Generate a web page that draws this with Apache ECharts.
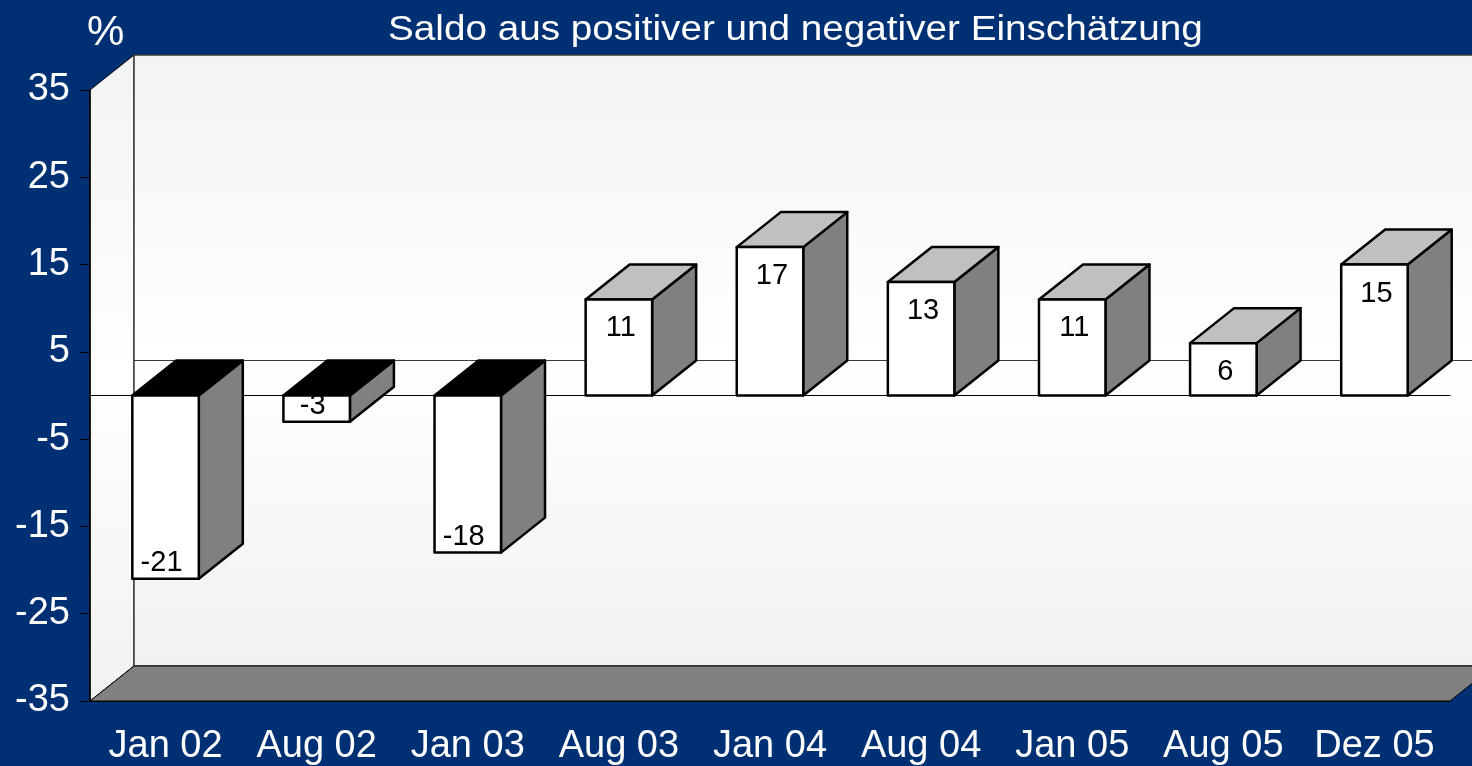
<!DOCTYPE html>
<html>
<head>
<meta charset="utf-8">
<script src="https://cdn.jsdelivr.net/npm/echarts@6/dist/echarts.min.js"></script>
<style>
  html, body { margin: 0; padding: 0; background: #003074; }
  #chart { width: 1472px; height: 766px; }
</style>
</head>
<body>
<div id="chart"></div>
<script>
var months = ['Jan 02', 'Aug 02', 'Jan 03', 'Aug 03', 'Jan 04', 'Aug 04', 'Jan 05', 'Aug 05', 'Dez 05'];
var saldo = [-21, -3, -18, 11, 17, 13, 11, 6, 15];
var titleText = 'Saldo aus positiver und negativer Einschätzung';

// 3d depth of the plot box (pixels)
var DX = 44, DY = -35;
var FONT = '"Liberation Sans", Arial, sans-serif';

var dom = document.getElementById('chart');
var myChart = echarts.init(dom, null, { renderer: 'canvas' });

function renderWalls(params, api) {
  var cs = params.coordSys;
  var x0 = cs.x, y0 = cs.y, x1 = cs.x + cs.width, y1 = cs.y + cs.height;
  var zy = api.coord([0, 0])[1];
  var wallFill = new echarts.graphic.LinearGradient(0, 0, 0, 1, [
    { offset: 0, color: '#f3f3f3' },
    { offset: 0.5, color: '#ffffff' },
    { offset: 1, color: '#f1f1f1' }
  ]);
  return {
    type: 'group',
    children: [
      { type: 'polygon', shape: { points: [[x0, y0], [x0 + DX, y0 + DY], [x0 + DX, y1 + DY], [x0, y1]] },
        style: { fill: wallFill, stroke: '#000', lineWidth: 1 } },
      { type: 'rect', shape: { x: x0 + DX, y: y0 + DY, width: cs.width, height: cs.height },
        style: { fill: wallFill, stroke: '#3a3a3a', lineWidth: 1.5 } },
      { type: 'polygon', shape: { points: [[x0, y1], [x0 + DX, y1 + DY], [x1 + DX, y1 + DY], [x1, y1]] },
        style: { fill: '#808080', stroke: '#000', lineWidth: 1 } },
      { type: 'line', shape: { x1: x0 + DX, y1: zy + DY, x2: x1 + DX, y2: zy + DY },
        style: { stroke: '#3a3a3a', lineWidth: 1 } }
    ]
  };
}

function renderBar(params, api) {
  var i = api.value(0), v = api.value(1);
  var base = api.coord([i, 0]), end = api.coord([i, v]);
  var w = api.size([1, 0])[0] * 0.44;
  var xl = base[0] - w / 2, xr = base[0] + w / 2;
  var top = Math.min(base[1], end[1]), bot = Math.max(base[1], end[1]);
  var edge = { stroke: '#000', lineWidth: 2.5, lineJoin: 'round' };
  return {
    type: 'group',
    children: [
      { type: 'polygon', shape: { points: [[xr, top], [xr + DX, top + DY], [xr + DX, bot + DY], [xr, bot]] },
        style: Object.assign({ fill: '#808080' }, edge) },
      { type: 'polygon', shape: { points: [[xl, top], [xl + DX, top + DY], [xr + DX, top + DY], [xr, top]] },
        style: Object.assign({ fill: v >= 0 ? '#c0c0c0' : '#000000' }, edge) },
      { type: 'rect', shape: { x: xl, y: top, width: w, height: bot - top },
        style: Object.assign({ fill: '#ffffff' }, edge) },
      { type: 'text', x: base[0] + (v >= 0 ? 2 : -4), y: v >= 0 ? top + 29 : bot - 16,
        style: { text: String(v), fill: '#000', font: '29px ' + FONT, align: 'center', verticalAlign: 'middle' } }
    ]
  };
}

option = {
  backgroundColor: '#003074',
  animation: false,
  title: {
    text: '%', left: 82, top: 7,
    textStyle: { color: '#fff', fontSize: 42, fontWeight: 'normal', fontFamily: FONT }
  },
  graphic: [
    { type: 'text', left: 388, top: 13, scaleX: 1.105, silent: true,
      style: { text: titleText, fill: '#fff', font: '35px ' + FONT } }
  ],
  grid: { left: 90, top: 90, width: 1360, height: 611 },
  xAxis: [
    {
      type: 'category', data: months, position: 'bottom',
      axisLine: { onZero: false, lineStyle: { color: '#000', width: 1 } },
      axisTick: { length: 10, lineStyle: { color: '#000' } },
      axisLabel: { color: '#fff', fontSize: 38, fontFamily: FONT, margin: 27, interval: 0, hideOverlap: false },
      splitLine: { show: false }
    },
    {
      type: 'category', data: months, position: 'bottom',
      axisLine: { onZero: true, lineStyle: { color: '#000', width: 1 } },
      axisTick: { length: 10, interval: 0, lineStyle: { color: '#000' } },
      axisLabel: { show: false },
      splitLine: { show: false }
    }
  ],
  yAxis: {
    type: 'value', min: -35, max: 35, interval: 10,
    axisLine: { show: true, lineStyle: { color: '#000', width: 1.5 } },
    axisTick: { show: true, length: 10, lineStyle: { color: '#000' } },
    axisLabel: { color: '#fff', fontSize: 38, fontFamily: FONT, margin: 20 },
    splitLine: { show: false }
  },
  series: [
    { type: 'custom', name: 'walls', z: -10, silent: true, clip: false,
      renderItem: renderWalls, data: [[0, 0]] },
    { type: 'custom', name: 'Saldo', z: 5, clip: false,
      renderItem: renderBar, data: saldo.map(function (v, i) { return [i, v]; }) }
  ]
};
var option;

myChart.setOption(option);
window.addEventListener('resize', myChart.resize);
</script>
</body>
</html>
